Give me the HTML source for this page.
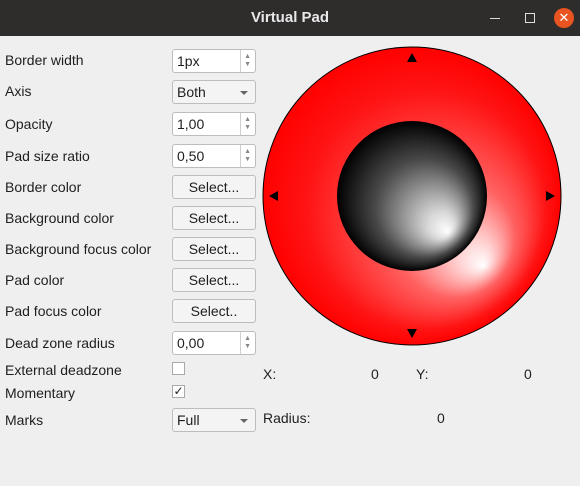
<!DOCTYPE html>
<html><head><meta charset="utf-8">
<style>
body{margin:0;width:580px;height:486px;background:#efefef;font-family:"Liberation Sans","DejaVu Sans",sans-serif;font-size:14px;color:#1e1e1e;position:relative;overflow:hidden}
.title{position:absolute;left:0;top:0;width:580px;height:36px;background:#2f2c2c;color:#e8e8e8;font-weight:bold;font-size:15px;text-align:center;line-height:36px}
.lbl{position:absolute;left:5px}
.w{position:absolute;left:172px;width:84px;height:24px;border:1px solid #bdbdbd;border-radius:3px;box-sizing:border-box;background:#fff;padding-left:4px;line-height:22px}
.btn{background:#f4f4f4;text-align:center;padding-left:0}
.combo{background:#f4f4f4}
.spin:after{content:"";position:absolute;right:14px;top:0;bottom:0;border-left:1px solid #d0d0d0}
.arr{position:absolute;right:4px;font-size:7px;color:#888;line-height:8px;top:3px}
.dd{position:absolute;right:7px;top:10px;border-left:4px solid transparent;border-right:4px solid transparent;border-top:4px solid #666}
.cb{position:absolute;left:172px;width:13px;height:13px;border:1px solid #aaa;background:#fff;box-sizing:border-box;font-size:12px;line-height:11px;text-align:center}
</style></head><body>
<div class="title">Virtual Pad
<span style="position:absolute;left:490px;top:18px;width:10px;border-top:1px solid #ddd"></span>
<span style="position:absolute;left:525px;top:13px;width:8px;height:8px;border:1px solid #ddd"></span>
<span style="position:absolute;left:554px;top:8px;width:20px;height:20px;border-radius:50%;background:#e95420;color:#fff;line-height:20px;font-size:13px;font-weight:normal">✕</span>
</div>

<div class="lbl" style="top:52px">Border width</div>
<div class="w spin" style="top:49px">1px<span class="arr">▲<br>▼</span></div>
<div class="lbl" style="top:83px">Axis</div>
<div class="w combo" style="top:80px">Both<span class="dd"></span></div>
<div class="lbl" style="top:116px">Opacity</div>
<div class="w spin" style="top:112px">1,00<span class="arr">▲<br>▼</span></div>
<div class="lbl" style="top:148px">Pad size ratio</div>
<div class="w spin" style="top:144px">0,50<span class="arr">▲<br>▼</span></div>
<div class="lbl" style="top:179px">Border color</div>
<div class="w btn" style="top:175px">Select...</div>
<div class="lbl" style="top:210px">Background color</div>
<div class="w btn" style="top:206px">Select...</div>
<div class="lbl" style="top:241px">Background focus color</div>
<div class="w btn" style="top:237px">Select...</div>
<div class="lbl" style="top:272px">Pad color</div>
<div class="w btn" style="top:268px">Select...</div>
<div class="lbl" style="top:303px">Pad focus color</div>
<div class="w btn" style="top:299px">Select..</div>
<div class="lbl" style="top:335px">Dead zone radius</div>
<div class="w spin" style="top:331px">0,00<span class="arr">▲<br>▼</span></div>
<div class="lbl" style="top:362px">External deadzone</div>
<div class="cb" style="top:362px"></div>
<div class="lbl" style="top:385px">Momentary</div>
<div class="cb" style="top:385px">✓</div>
<div class="lbl" style="top:412px">Marks</div>
<div class="w combo" style="top:408px">Full<span class="dd"></span></div>

<div style="position:absolute;left:263px;top:366px">X:</div>
<div style="position:absolute;left:371px;top:366px">0</div>
<div style="position:absolute;left:416px;top:366px">Y:</div>
<div style="position:absolute;left:524px;top:366px">0</div>
<div style="position:absolute;left:263px;top:410px">Radius:</div>
<div style="position:absolute;left:437px;top:410px">0</div>

<svg style="position:absolute;left:0;top:0" width="580" height="486">
<defs>
<radialGradient id="bg" gradientUnits="userSpaceOnUse" cx="412" cy="196" r="149" fx="484" fy="266">
<stop offset="0" stop-color="#fff"/><stop offset="0.4" stop-color="#ff6262"/><stop offset="0.8" stop-color="#ff1414"/><stop offset="1" stop-color="#ff0000"/></radialGradient>
<radialGradient id="pad" gradientUnits="userSpaceOnUse" cx="412" cy="196" r="75" fx="448" fy="232">
<stop offset="0" stop-color="#fff"/><stop offset="0.18" stop-color="#d8d8d8"/><stop offset="0.65" stop-color="#4a4a4a"/><stop offset="1" stop-color="#000"/></radialGradient>
</defs>
<circle cx="412" cy="196" r="149" fill="url(#bg)" stroke="#000" stroke-width="1"/>
<circle cx="412" cy="196" r="75" fill="url(#pad)"/>
<polygon points="407,62 417,62 412,53" fill="#000"/>
<polygon points="407,329 417,329 412,338" fill="#000"/>
<polygon points="278,191 278,201 269,196" fill="#000"/>
<polygon points="546,191 546,201 555,196" fill="#000"/>
</svg>
</body></html>
